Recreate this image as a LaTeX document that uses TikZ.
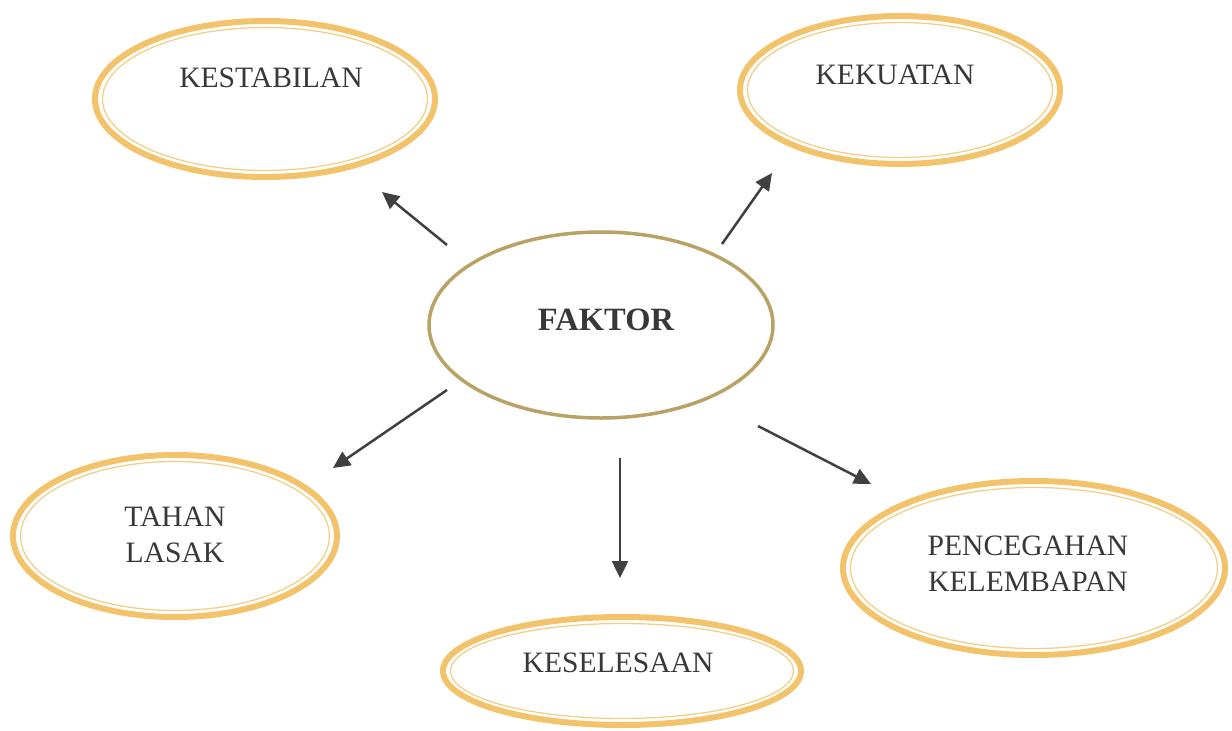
\documentclass[tikz,border=0pt]{standalone}
\usepackage{fontspec}
\setmainfont{Liberation Serif}
\usetikzlibrary{shapes.geometric,arrows.meta}
\definecolor{ovalout}{HTML}{F2C36B}
\definecolor{ovalin}{HTML}{F4CE88}
\definecolor{centerline}{HTML}{B9A265}
\definecolor{txt}{HTML}{383838}
\definecolor{arrcol}{HTML}{404040}
\tikzset{
  outeroval/.style={ellipse, draw=ovalout, line width=6pt, inner sep=0pt},
  inneroval/.style={ellipse, draw=ovalin, line width=1.3pt, inner sep=0pt},
  centeroval/.style={ellipse, draw=centerline, line width=3.5pt, inner sep=0pt},
  lbl/.style={text=txt, font=\fontsize{29.6}{36}\selectfont, align=center, inner sep=0pt},
  arr/.style={draw=arrcol, line width=2.5pt, -{Triangle[length=17pt,width=16pt]}}
}
\newcommand{\myoval}[6]{%
  \node[outeroval, minimum width=#4pt, minimum height=#5pt] (#1) at (#2,#3) {};
  \node[inneroval, minimum width=#4pt-15pt, minimum height=#5pt-13pt] (#1-in) at (#2,#3) {};
}
\begin{document}
\begin{tikzpicture}[x=1pt,y=-1pt]
\useasboundingbox (0,0) rectangle (1232,731);
% ovals
\myoval{kes}{265}{99}{340}{156}{}
\myoval{kek}{900}{90}{320}{148}{}
\myoval{tah}{175}{536}{324}{162}{}
\myoval{ksl}{622}{671}{358}{108}{}
\myoval{pen}{1034}{568}{382}{174}{}
\node[centeroval, minimum width=344pt, minimum height=186pt] (fak) at (601,325) {};
% labels
\node[lbl] (kes-t) at (271,78) {KESTABILAN};
\node[lbl] (kek-t) at (895,75) {KEKUATAN};
\node[lbl] (tah-t) at (175,535) {TAHAN\\LASAK};
\node[lbl] (ksl-t) at (618,663) {KESELESAAN};
\node[lbl] (pen-t) at (1028,564) {PENCEGAHAN\\KELEMBAPAN};
\node[lbl, font=\bfseries\fontsize{32.5}{36}\selectfont] (fak-t) at (606,320) {FAKTOR};
% arrow end points
\coordinate (a1s) at (447,245); \coordinate (a1e) at (382,192);
\coordinate (a2s) at (722,244); \coordinate (a2e) at (772,173);
\coordinate (a3s) at (447,390); \coordinate (a3e) at (333,468);
\coordinate (a4s) at (620,458); \coordinate (a4e) at (620,578);
\coordinate (a5s) at (758,426); \coordinate (a5e) at (871,484);
\draw[arr] (a1s) -- (a1e);
\draw[arr] (a2s) -- (a2e);
\draw[arr] (a3s) -- (a3e);
\draw[arr] (a4s) -- (a4e);
\draw[arr] (a5s) -- (a5e);
\end{tikzpicture}
\end{document}
